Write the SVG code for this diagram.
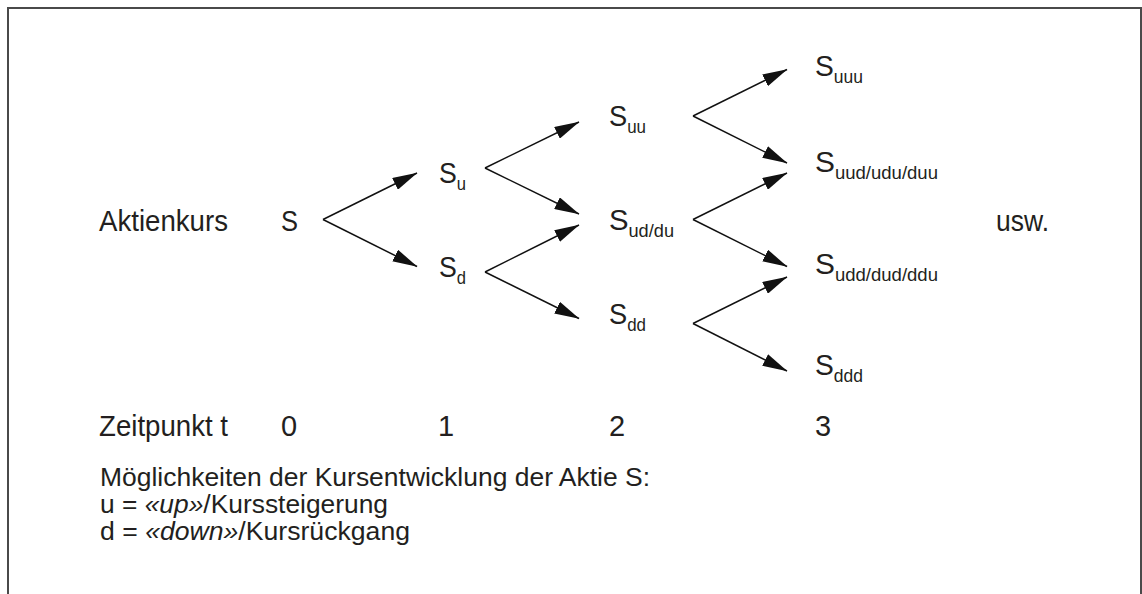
<svg xmlns="http://www.w3.org/2000/svg" width="1142" height="594" viewBox="0 0 1142 594">
<style>
.t{font-family:"Liberation Sans",Arial,sans-serif;font-size:29px;fill:#231f20}
.sub{font-size:18px}
.f{font-family:"Liberation Sans",Arial,sans-serif;font-size:25px;fill:#231f20}
.c line{stroke:#111;stroke-width:1.5;marker-end:url(#ah)}
.frame{fill:none;stroke:#4a4a4a;stroke-width:2}
</style>
<defs>
<marker id="ah" markerUnits="userSpaceOnUse" markerWidth="25" markerHeight="13" viewBox="0 0 25 13" refX="24.5" refY="6.5" orient="auto">
<path d="M0,0 L25,6.5 L0,13 z" fill="#111"/>
</marker>
</defs>
<rect width="1142" height="594" fill="#fff"/>
<path class="frame" d="M8,594 L8,8 L1141,8 L1141,594"/>
<g id="labels">
<text class="t" x="99" y="231" textLength="129" lengthAdjust="spacingAndGlyphs">Aktienkurs</text>
<text class="t" x="996" y="231" textLength="53" lengthAdjust="spacingAndGlyphs">usw.</text>
<text class="t" x="99" y="436" textLength="129" lengthAdjust="spacingAndGlyphs">Zeitpunkt t</text>
<text class="t" x="281" y="436">0</text>
<text class="t" x="438" y="436">1</text>
<text class="t" x="609" y="436">2</text>
<text class="t" x="815" y="436">3</text>
</g>
<g id="n-S"><text class="t" x="281" y="231" textLength="17" lengthAdjust="spacingAndGlyphs">S</text></g>
<g id="n-Su"><text class="t" x="439" y="183" textLength="27" lengthAdjust="spacingAndGlyphs">S<tspan class="sub" dy="7">u</tspan></text></g>
<g id="n-Sd"><text class="t" x="439" y="277" textLength="27" lengthAdjust="spacingAndGlyphs">S<tspan class="sub" dy="7">d</tspan></text></g>
<g id="n-Suu"><text class="t" x="609" y="126" textLength="37" lengthAdjust="spacingAndGlyphs">S<tspan class="sub" dy="7">uu</tspan></text></g>
<g id="n-Sud"><text class="t" x="609" y="229.5" textLength="65" lengthAdjust="spacingAndGlyphs">S<tspan class="sub" dy="7">ud/du</tspan></text></g>
<g id="n-Sdd"><text class="t" x="609" y="323.5" textLength="37" lengthAdjust="spacingAndGlyphs">S<tspan class="sub" dy="7">dd</tspan></text></g>
<g id="n-Suuu"><text class="t" x="815" y="76" textLength="48" lengthAdjust="spacingAndGlyphs">S<tspan class="sub" dy="7">uuu</tspan></text></g>
<g id="n-Suud"><text class="t" x="815" y="172" textLength="123" lengthAdjust="spacingAndGlyphs">S<tspan class="sub" dy="7">uud/udu/duu</tspan></text></g>
<g id="n-Sudd"><text class="t" x="815" y="274" textLength="123" lengthAdjust="spacingAndGlyphs">S<tspan class="sub" dy="7">udd/dud/ddu</tspan></text></g>
<g id="n-Sddd"><text class="t" x="815" y="375" textLength="48" lengthAdjust="spacingAndGlyphs">S<tspan class="sub" dy="7">ddd</tspan></text></g>
<g id="connectors" class="c">
<line x1="323" y1="219.5" x2="417" y2="173"/>
<line x1="323" y1="219.5" x2="417" y2="266.5"/>
<line x1="485" y1="168" x2="579" y2="122"/>
<line x1="485" y1="168" x2="579" y2="214"/>
<line x1="485" y1="272" x2="579" y2="225"/>
<line x1="485" y1="272" x2="579" y2="318.5"/>
<line x1="693" y1="116" x2="787" y2="69.5"/>
<line x1="693" y1="116" x2="787" y2="163"/>
<line x1="693" y1="219.5" x2="787" y2="173"/>
<line x1="693" y1="219.5" x2="787" y2="266.5"/>
<line x1="693" y1="323.5" x2="787" y2="277"/>
<line x1="693" y1="323.5" x2="787" y2="371"/>
</g>
<g id="legend">
<text class="f" x="100" y="486" textLength="550" lengthAdjust="spacingAndGlyphs">Möglichkeiten der Kursentwicklung der Aktie S:</text>
<text class="f" x="100" y="513" textLength="288" lengthAdjust="spacingAndGlyphs">u = <tspan font-style="italic">«up»</tspan>/Kurssteigerung</text>
<text class="f" x="100" y="540" textLength="310" lengthAdjust="spacingAndGlyphs">d = <tspan font-style="italic">«down»</tspan>/Kursrückgang</text>
</g>
</svg>
